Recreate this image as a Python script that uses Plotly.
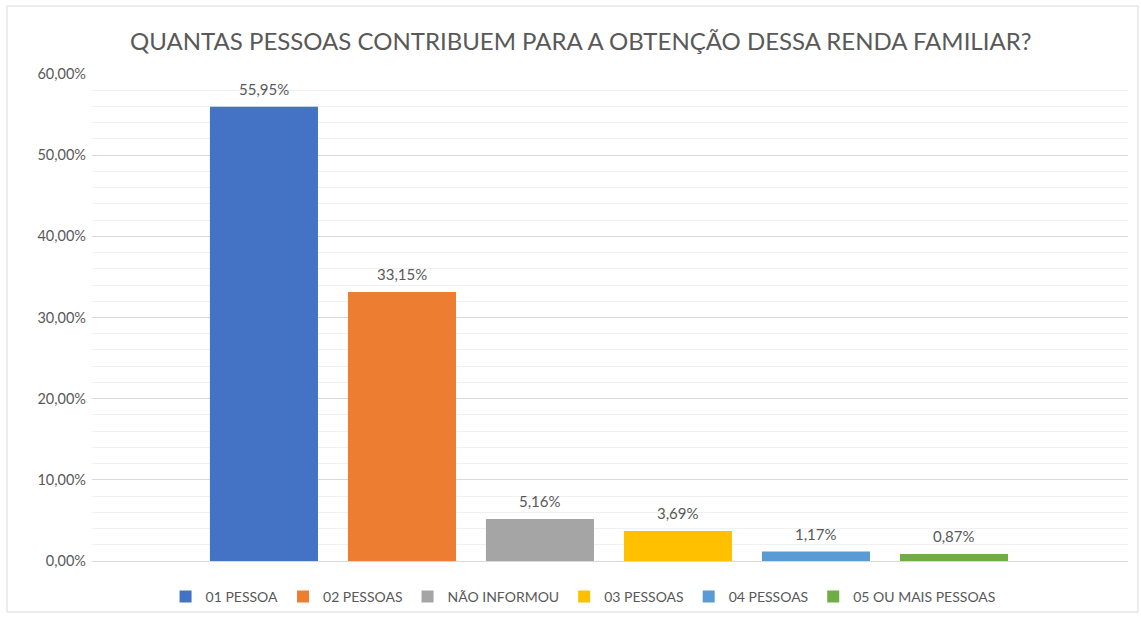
import plotly.graph_objects as go

categories = ["01 PESSOA", "02 PESSOAS", "NÃO INFORMOU", "03 PESSOAS", "04 PESSOAS", "05 OU MAIS PESSOAS"]
values = [55.95, 33.15, 5.16, 3.69, 1.17, 0.87]
colors = ["#4472C4", "#ED7D31", "#A5A5A5", "#FFC000", "#5B9BD5", "#70AD47"]
tick_vals = [0, 10, 20, 30, 40, 50, 60]
tick_text = [f"{v:.2f}%".replace(".", ",") for v in tick_vals]
title_text = "QUANTAS PESSOAS CONTRIBUEM PARA A OBTENÇÃO DESSA RENDA FAMILIAR?"

FONT = "Lato"
GREY = "#595959"

fig = go.Figure()
for name, v, c in zip(categories, values, colors):
    fig.add_trace(go.Bar(
        name=name, x=[name], y=[v], marker=dict(color=c, line=dict(width=0)),
        hoverinfo="skip",
    ))
    fig.add_annotation(x=name, y=v, text=f"{v:.2f}%".replace(".", ","),
                       showarrow=False, yanchor="middle", yshift=18,
                       font=dict(family=FONT, size=15, color=GREY))

fig.update_layout(
    width=1141, height=618,
    margin=dict(l=92, r=13, t=74, b=57),
    paper_bgcolor="white", plot_bgcolor="white",
    barmode="overlay", bargap=0.217,
    title=dict(text=title_text, x=0.509, xref="container", xanchor="center",
               y=1 - 42 / 618, yref="container", yanchor="middle",
               font=dict(family=FONT, size=24, color=GREY)),
    showlegend=True,
    legend=dict(orientation="h", x=0.474, xanchor="center", xref="paper",
                y=1 - 597 / 618, yanchor="middle", yref="container",
                font=dict(family=FONT, size=14, color=GREY), itemwidth=30,
                traceorder="normal", bgcolor="rgba(0,0,0,0)"),
    font=dict(family=FONT, color=GREY),
)
fig.update_xaxes(type="category", categoryorder="array", categoryarray=categories,
                 range=[-1.246, 6.261], showticklabels=False, showgrid=False,
                 zeroline=False, showline=False, ticks="")
fig.update_yaxes(range=[0, 60], tickvals=tick_vals, ticktext=tick_text,
                 tickfont=dict(family=FONT, size=14.5, color=GREY),
                 showgrid=True, gridcolor="#D9D9D9", gridwidth=1,
                 zeroline=True, zerolinecolor="#D9D9D9", zerolinewidth=1,
                 showline=False, ticks="", ticklabelstandoff=5, automargin=False,
                 minor=dict(dtick=2, showgrid=True, gridcolor="#F0F0F0", gridwidth=1))
fig.add_shape(type="rect", xref="paper", yref="paper",
              x0=(7 - 92) / 1036, x1=(1138 - 92) / 1036,
              y0=(561 - 612) / 487, y1=1 + (74 - 6) / 487,
              line=dict(color="#D9D9D9", width=1), layer="below")

fig.write_html("out.html", config={"displayModeBar": False},
               post_script="document.body.style.margin='0';")
